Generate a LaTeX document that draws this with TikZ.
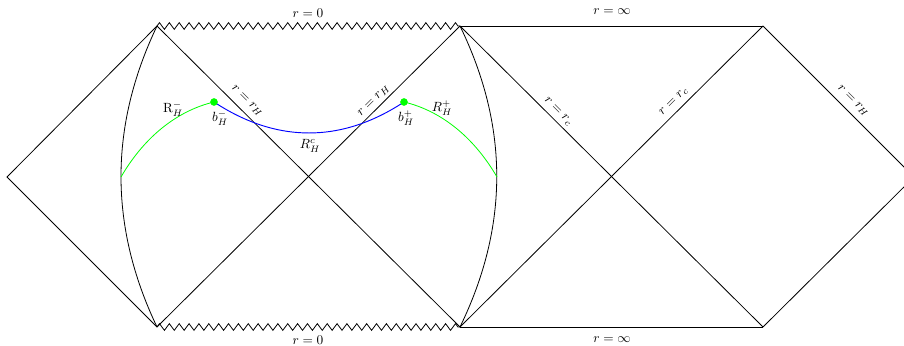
\documentclass[tikz,border=0pt]{standalone}
\usetikzlibrary{decorations.pathmorphing}
\begin{document}
\begin{tikzpicture}[x=0.75pt,y=-0.75pt,
  edge/.style={black,line width=0.6pt},
  sing/.style={black,line width=0.6pt,decorate,decoration={zigzag,segment length=7.4,amplitude=2.5}},
  greenc/.style={green,line width=0.6pt},
  bluec/.style={blue,line width=0.7pt},
  lbl/.style={inner sep=1pt,font=\normalsize},
  dotc/.style={circle,fill=green,inner sep=0pt,minimum size=5.5pt}]
\useasboundingbox (0,0) rectangle (904,346);
\clip (0,0) rectangle (904,346);
% vertices
\coordinate (L) at (7,177);
\coordinate (A) at (157,26);
\coordinate (B) at (460,26);
\coordinate (C) at (763,26);
\coordinate (Ab) at (157,327);
\coordinate (Bb) at (460,327);
\coordinate (Cb) at (763,327);
\coordinate (R) at (914,177);
\coordinate (lm) at (121,177);
\coordinate (rm) at (497,177);
\node[dotc] (bm) at (214,102) {};
\node[dotc] (bp) at (404,102) {};
% left diamond
\draw[edge] (A) -- (L) -- (Ab);
% diagonals
\draw[edge] (A) -- (Bb);
\draw[edge] (B) -- (Ab);
\draw[edge] (B) -- (Cb);
\draw[edge] (C) -- (Bb);
% right diamond
\draw[edge] (C) -- (R) -- (Cb);
% infinity lines
\draw[edge] (B) -- (C);
\draw[edge] (Bb) -- (Cb);
% singularities
\draw[sing] (A) -- (B);
\draw[sing] (Ab) -- (Bb);
% arcs
\draw[edge] (A) .. controls (109,126.7) and (109,226.3) .. (Ab);
\draw[edge] (B) .. controls (509,126.7) and (509,226.3) .. (Bb);
% green curves
\draw[greenc] (lm) .. controls (146,134) and (180,110) .. (bm.center);
\draw[greenc] (bp.center) .. controls (438,110) and (472,134) .. (rm);
% blue curve
\draw[bluec] (bm.center) .. controls (276.7,143.3) and (341.3,143.3) .. (bp.center);
\node[dotc] at (bm) {};
\node[dotc] at (bp) {};
% labels
\node[lbl] (t0) at (308,13) {$r=0$};
\node[lbl] (b0) at (308,340) {$r=0$};
\node[lbl] (ti) at (612,12) {$r=\infty$};
\node[lbl] (bi) at (612,340) {$r=\infty$};
\node[lbl,rotate=-45] (rh1) at (247,101) {$r=r_H$};
\node[lbl,rotate=45] (rh2) at (374,101) {$r=r_H$};
\node[lbl,rotate=-45] (rc1) at (558,112) {$r=r_c$};
\node[lbl,rotate=45] (rc2) at (674,102) {$r=r_c$};
\node[lbl,rotate=-45] (rh3) at (853,101) {$r=r_H$};
\node[lbl] (Rm) at (173,109) {$\mathrm{R}_H^-$};
\node[lbl] (bml) at (220,118) {$b_H^-$};
\node[lbl] (Rc) at (310,146) {$R_H^c$};
\node[lbl] (bpl) at (406,118) {$b_H^+$};
\node[lbl] (Rp) at (442,108) {$R_H^+$};
\end{tikzpicture}
\end{document}
